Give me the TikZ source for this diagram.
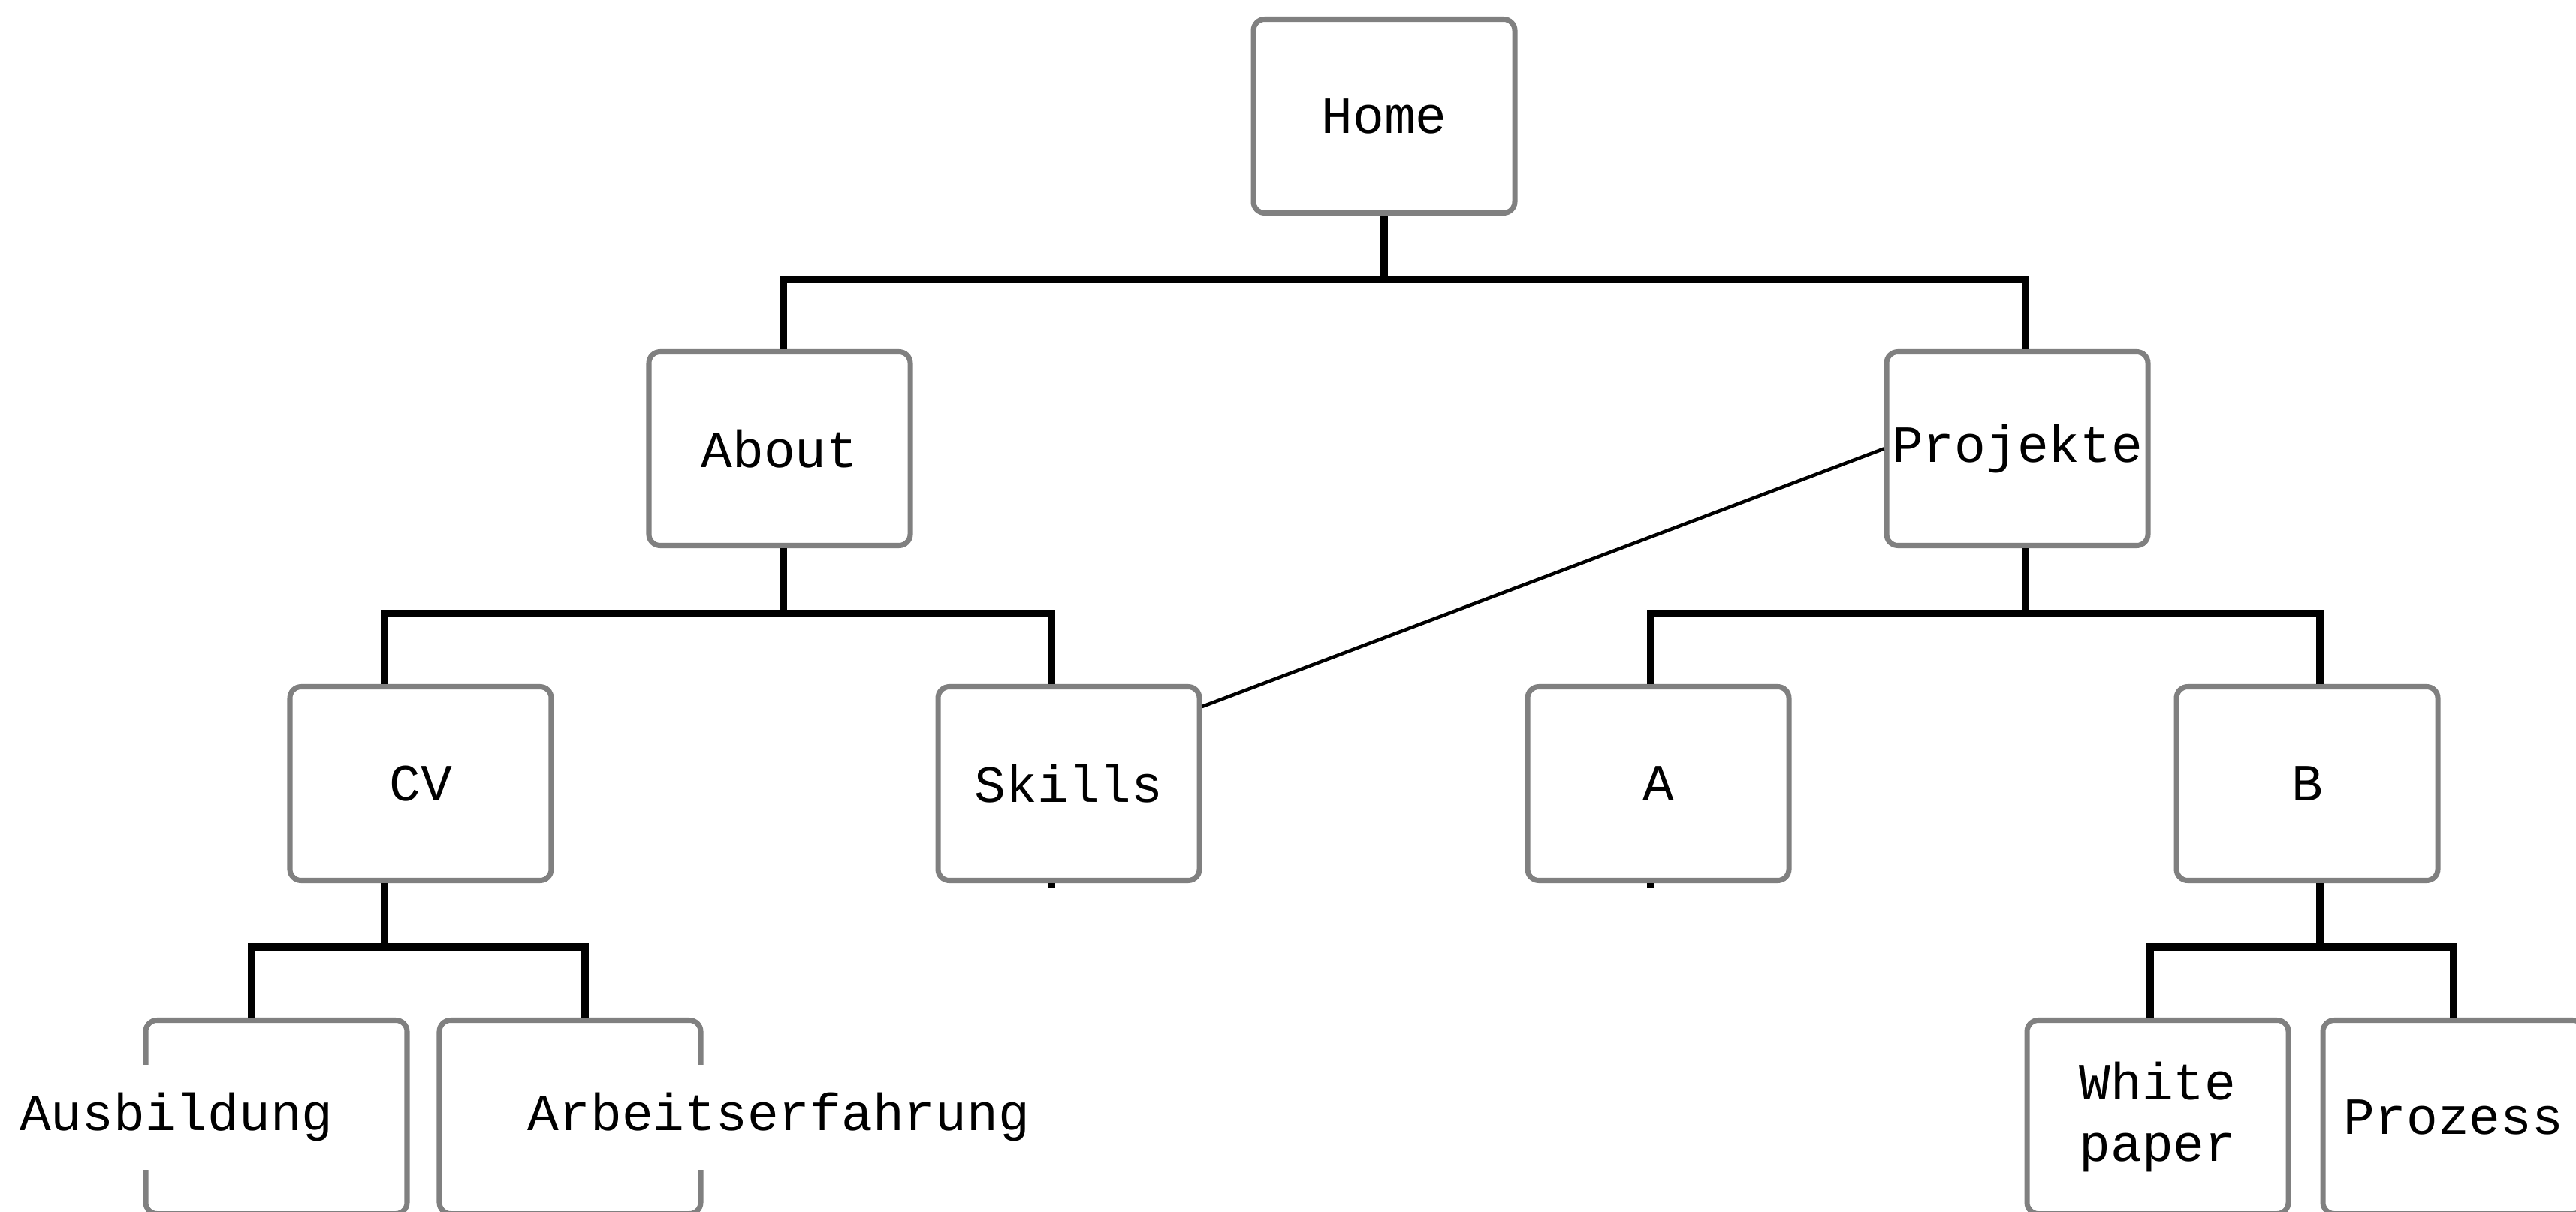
\documentclass[tikz,border=0pt]{standalone}
\usepackage{fontspec}
\setmonofont{Liberation Mono}
\usepackage{tikz}
\definecolor{boxgray}{HTML}{808080}

\begin{document}
\begin{tikzpicture}[font=\ttfamily\fontsize{19.8}{23.5}\selectfont, box/.style={draw=boxgray, fill=white, rounded corners=1.5mm, line width=2pt, align=center, inner sep=0pt, minimum width=3.48cm, minimum height=2.58cm}, branch/.style={draw, line width=2.6pt}, link/.style={draw, line width=1.3pt}, tag/.style={fill=white, inner sep=2mm, minimum height=1.4cm}]
    \useasboundingbox[fill=white] (0,0) rectangle (34.30,-16.14);

    % nodes
    \node[box] (home) at (18.43,-1.545) {Home};
    \node[box] (about) at (10.38,-5.975) {About};
    \node[box] (projekte) at (26.86,-5.975) {Projekte};
    \node[box] (cv) at (5.60,-10.435) {CV};
    \node[box] (skills) at (14.23,-10.435) {Skills};
    \node[box] (a) at (22.08,-10.435) {A};
    \node[box] (b) at (30.72,-10.435) {B};
    \node[box] (ausbildung) at (3.68,-14.875) {};
    \node[box] (arbeit) at (7.59,-14.875) {};
    \node[box] (whitepaper) at (28.73,-14.875) {White\\paper};
    \node[box] (prozess) at (32.67,-14.875) {Prozess};
    \node[tag] (ausbildungtag) at ([xshift=-13.3mm]ausbildung.center) {Ausbildung};
    \node[tag] (arbeittag) at ([xshift=27.8mm]arbeit.center) {Arbeitserfahrung};

    % lines
    \draw[branch] (home.south) -- ++(0,-0.85) coordinate (homebus);
    \draw[branch] ([xshift=0.5mm]about.north) |- (homebus) -| ([xshift=1.1mm]projekte.north);
    \draw[branch] ([xshift=0.5mm]about.south) -- ++(0,-0.87) coordinate (aboutbus);
    \draw[branch] ([xshift=-2.3mm]skills.north) |- (aboutbus) -| ([xshift=-4.8mm]cv.north);
    \draw[branch] ([xshift=1.1mm]projekte.south) -- ++(0,-0.87) coordinate (projektebus);
    \draw[branch] ([xshift=-1mm]a.north) |- (projektebus) -| ([xshift=1.7mm]b.north);
    \draw[branch] ([xshift=-4.8mm]cv.south) -- ++(0,-0.85) coordinate (cvbus);
    \draw[branch] ([xshift=-3.3mm]ausbildung.north) |- (cvbus) -| ([xshift=2mm]arbeit.north);
    \draw[branch] ([xshift=1.7mm]b.south) -- ++(0,-0.85) coordinate (bbus);
    \draw[branch] ([xshift=-1mm]whitepaper.north) |- (bbus) -| (prozess.north);
    \draw[branch] ([xshift=-2.3mm]skills.south) -- ++(0,-0.06);
    \draw[branch] ([xshift=-1mm]a.south) -- ++(0,-0.06);
    \draw[link] (skills.30) -- (projekte.west);
\end{tikzpicture}
\end{document}
